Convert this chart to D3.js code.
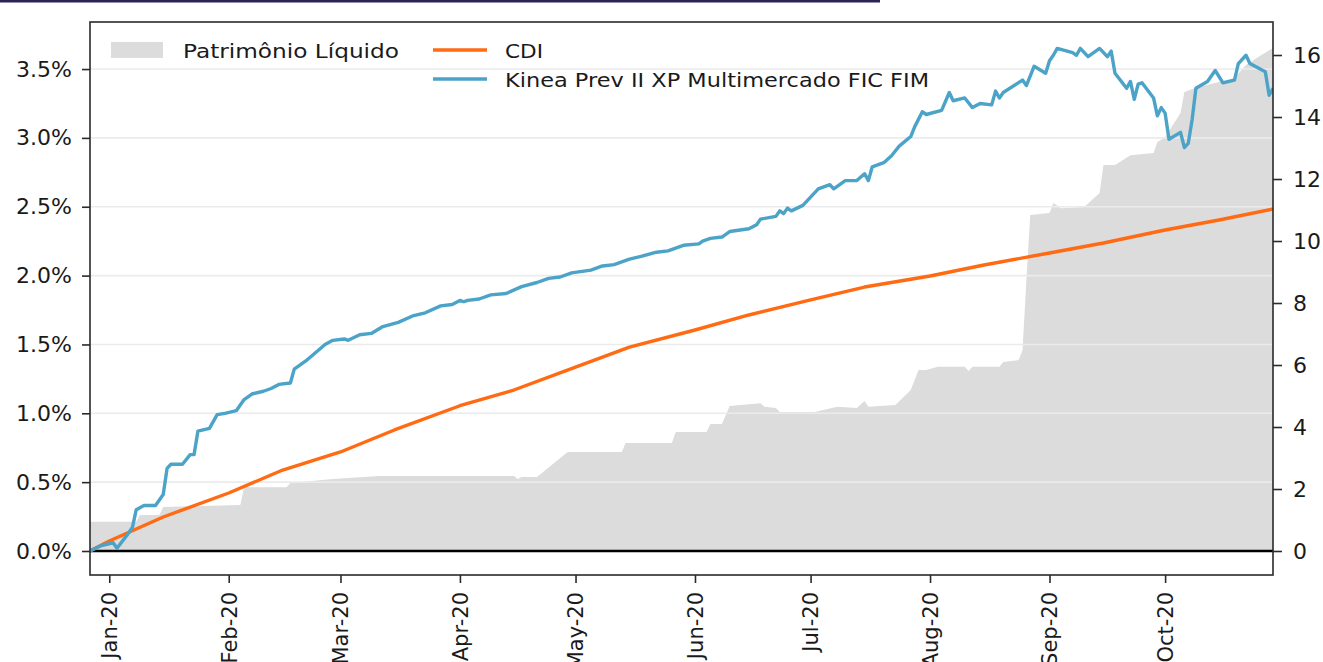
<!DOCTYPE html>
<html>
<head>
<meta charset="utf-8">
<script src="https://cdn.jsdelivr.net/npm/d3@7"></script>
<style>
  html, body { margin: 0; padding: 0; background: #fff; }
  svg { display: block; }
  text { font-family: "DejaVu Sans", sans-serif; }
</style>
</head>
<body>
<svg id="chart" width="1323" height="662"></svg>
<script>
// ---------------- DATA ----------------
const kineaDates = ["2019-12-27","2019-12-30","2020-01-02","2020-01-03","2020-01-06","2020-01-07","2020-01-08","2020-01-10","2020-01-13","2020-01-15","2020-01-16","2020-01-17","2020-01-20","2020-01-22","2020-01-23","2020-01-24","2020-01-27","2020-01-29","2020-01-31","2020-02-03","2020-02-05","2020-02-07","2020-02-10","2020-02-12","2020-02-14","2020-02-17","2020-02-18","2020-02-20","2020-02-21","2020-02-26","2020-02-28","2020-03-02","2020-03-03","2020-03-06","2020-03-09","2020-03-12","2020-03-16","2020-03-20","2020-03-23","2020-03-27","2020-03-30","2020-04-01","2020-04-02","2020-04-03","2020-04-06","2020-04-09","2020-04-13","2020-04-17","2020-04-21","2020-04-24","2020-04-27","2020-04-30","2020-05-05","2020-05-08","2020-05-11","2020-05-15","2020-05-18","2020-05-22","2020-05-25","2020-05-29","2020-06-02","2020-06-03","2020-06-05","2020-06-08","2020-06-10","2020-06-15","2020-06-17","2020-06-18","2020-06-22","2020-06-23","2020-06-24","2020-06-25","2020-06-26","2020-06-29","2020-07-01","2020-07-03","2020-07-06","2020-07-07","2020-07-10","2020-07-13","2020-07-15","2020-07-16","2020-07-17","2020-07-20","2020-07-22","2020-07-24","2020-07-27","2020-07-28","2020-07-30","2020-07-31","2020-08-04","2020-08-06","2020-08-07","2020-08-10","2020-08-12","2020-08-14","2020-08-17","2020-08-18","2020-08-19","2020-08-20","2020-08-25","2020-08-26","2020-08-28","2020-08-31","2020-09-01","2020-09-02","2020-09-03","2020-09-07","2020-09-08","2020-09-09","2020-09-11","2020-09-14","2020-09-16","2020-09-17","2020-09-18","2020-09-21","2020-09-22","2020-09-23","2020-09-24","2020-09-25","2020-09-28","2020-09-29","2020-09-30","2020-10-01","2020-10-02","2020-10-05","2020-10-06","2020-10-07","2020-10-08","2020-10-09","2020-10-12","2020-10-14","2020-10-16","2020-10-19","2020-10-20","2020-10-22","2020-10-23","2020-10-27","2020-10-28","2020-10-29"];
const kineaPct = [0.00,0.04,0.06,0.02,0.13,0.17,0.30,0.33,0.33,0.41,0.60,0.63,0.63,0.70,0.70,0.87,0.89,0.99,1.00,1.02,1.10,1.14,1.16,1.18,1.21,1.22,1.32,1.36,1.38,1.50,1.53,1.54,1.53,1.57,1.58,1.63,1.66,1.71,1.73,1.78,1.79,1.82,1.81,1.82,1.83,1.86,1.87,1.92,1.95,1.98,1.99,2.02,2.04,2.07,2.08,2.12,2.14,2.17,2.18,2.22,2.23,2.25,2.27,2.28,2.32,2.34,2.37,2.41,2.43,2.47,2.45,2.49,2.47,2.51,2.57,2.63,2.66,2.63,2.69,2.69,2.74,2.69,2.79,2.82,2.87,2.94,3.01,3.08,3.19,3.17,3.20,3.33,3.27,3.29,3.22,3.25,3.24,3.34,3.29,3.33,3.42,3.38,3.52,3.47,3.56,3.60,3.65,3.62,3.60,3.65,3.59,3.65,3.59,3.63,3.47,3.36,3.41,3.28,3.39,3.40,3.29,3.16,3.22,3.18,2.99,3.04,2.93,2.96,3.13,3.36,3.41,3.49,3.40,3.42,3.54,3.60,3.54,3.48,3.31,3.36];

const cdiDates = ["2019-12-27","2020-01-01","2020-01-15","2020-02-01","2020-02-15","2020-03-01","2020-03-15","2020-04-01","2020-04-15","2020-05-01","2020-05-15","2020-06-01","2020-06-15","2020-07-01","2020-07-15","2020-08-01","2020-08-15","2020-09-01","2020-09-15","2020-10-01","2020-10-15","2020-10-29"];
const cdiPct = [0.00,0.073,0.247,0.421,0.588,0.719,0.879,1.055,1.169,1.336,1.481,1.605,1.714,1.823,1.917,1.997,2.077,2.164,2.237,2.331,2.404,2.484];

const plDates = ["2019-12-27","2020-01-08","2020-01-09","2020-01-14","2020-01-15","2020-02-04","2020-02-05","2020-02-16","2020-02-17","2020-02-28","2020-03-11","2020-04-15","2020-04-16","2020-04-17","2020-04-21","2020-04-28","2020-04-29","2020-05-13","2020-05-14","2020-05-26","2020-05-27","2020-06-04","2020-06-05","2020-06-08","2020-06-10","2020-06-18","2020-06-19","2020-06-22","2020-06-23","2020-07-02","2020-07-08","2020-07-13","2020-07-15","2020-07-16","2020-07-23","2020-07-27","2020-07-29","2020-07-31","2020-08-03","2020-08-10","2020-08-11","2020-08-12","2020-08-19","2020-08-20","2020-08-24","2020-08-25","2020-08-26","2020-08-27","2020-09-01","2020-09-02","2020-09-04","2020-09-10","2020-09-14","2020-09-15","2020-09-18","2020-09-22","2020-09-28","2020-09-29","2020-10-01","2020-10-05","2020-10-06","2020-10-09","2020-10-15","2020-10-19","2020-10-22","2020-10-26","2020-10-29"];
const plValues = [0.94,0.94,1.16,1.16,1.42,1.48,2.06,2.06,2.19,2.32,2.42,2.42,2.32,2.39,2.39,3.10,3.19,3.19,3.48,3.48,3.84,3.84,4.10,4.10,4.68,4.77,4.65,4.61,4.48,4.48,4.65,4.61,4.84,4.65,4.71,5.19,5.84,5.84,5.94,5.94,5.81,5.94,5.94,6.10,6.16,6.48,8.74,10.84,10.90,11.23,11.06,11.10,11.55,12.45,12.45,12.77,12.84,13.19,13.35,14.13,14.81,14.94,15.13,15.26,15.68,16.00,16.23];

const leftTicks = [0, 0.5, 1.0, 1.5, 2.0, 2.5, 3.0, 3.5];
const rightTicks = [0, 2, 4, 6, 8, 10, 12, 14, 16];
const legendLabels = ["Patrimônio Líquido", "CDI", "Kinea Prev II XP Multimercado FIC FIM"];

// ---------------- CHART ----------------
const parse = d3.timeParse("%Y-%m-%d");
const svg = d3.select("#chart");
const L = 90, R = 1273, T = 22, B = 575;

const x = d3.scaleTime().domain([parse("2019-12-27"), parse("2020-10-29")]).range([L, R]);
const yL = d3.scaleLinear().domain([-0.1743, 3.8417]).range([B, T]);
const yR = d3.scaleLinear().domain([-0.7742, 17.065]).range([B, T]);

const colBlue = "#4ba3c8", colOrange = "#ff6a13", colArea = "#dcdcdc";

// title remnant at very top (clipped)
svg.append("rect").attr("x", 0).attr("y", 0).attr("width", 880).attr("height", 2.5).attr("fill", "#2b2556");

svg.append("defs").append("clipPath").attr("id", "clip")
  .append("rect").attr("x", L).attr("y", T).attr("width", R - L).attr("height", B - T);

const plot = svg.append("g").attr("clip-path", "url(#clip)");

// area
const plData = plDates.map((d, i) => ({ d: parse(d), v: plValues[i] }));
plot.append("path").datum(plData)
  .attr("fill", colArea)
  .attr("d", d3.area().x(p => x(p.d)).y0(yR(0)).y1(p => yR(p.v)));

// gridlines
plot.selectAll("line.grid").data(leftTicks.filter(t => t > 0)).enter().append("line")
  .attr("class", "grid")
  .attr("x1", L).attr("x2", R)
  .attr("y1", d => yL(d)).attr("y2", d => yL(d))
  .attr("stroke", "#ebebeb").attr("stroke-width", 1.6);

// zero line
plot.append("line").attr("x1", L).attr("x2", R).attr("y1", yL(0)).attr("y2", yL(0))
  .attr("stroke", "#000").attr("stroke-width", 2.6);

// lines
const lineGen = d3.line().x(p => x(p.d)).y(p => yL(p.v));
const cdiData = cdiDates.map((d, i) => ({ d: parse(d), v: cdiPct[i] }));
const kinData = kineaDates.map((d, i) => ({ d: parse(d), v: kineaPct[i] }));
plot.append("path").datum(cdiData).attr("fill", "none").attr("stroke", colOrange)
  .attr("stroke-width", 3.4).attr("stroke-linejoin", "round").attr("d", lineGen);
plot.append("path").datum(kinData).attr("fill", "none").attr("stroke", colBlue)
  .attr("stroke-width", 3.4).attr("stroke-linejoin", "round").attr("d", lineGen);

// frame
svg.append("rect").attr("x", L).attr("y", T).attr("width", R - L).attr("height", B - T)
  .attr("fill", "none").attr("stroke", "#2a2a2a").attr("stroke-width", 1.6);

// axes
const fontTick = "22px";
const gL = svg.append("g").attr("transform", `translate(${L},0)`)
  .call(d3.axisLeft(yL).tickValues(leftTicks).tickFormat(d => d.toFixed(1) + "%").tickSize(8).tickPadding(10));
const gR = svg.append("g").attr("transform", `translate(${R},0)`)
  .call(d3.axisRight(yR).tickValues(rightTicks).tickFormat(d3.format("d")).tickSize(9).tickPadding(11));
const gB = svg.append("g").attr("transform", `translate(0,${B})`)
  .call(d3.axisBottom(x).ticks(d3.timeMonth.every(1)).tickFormat(d3.timeFormat("%b-%y")).tickSize(8));

[gL, gR, gB].forEach(g => {
  g.select(".domain").remove();
  g.selectAll(".tick line").attr("stroke", "#2a2a2a").attr("stroke-width", 1.6);
  g.selectAll(".tick text").attr("fill", "#1a1a1a").style("font-size", fontTick).style("font-family", "DejaVu Sans");
});
gB.selectAll(".tick text")
  .attr("transform", "rotate(-90)")
  .attr("x", -17).attr("y", 0).attr("dy", "0.35em")
  .attr("text-anchor", "end")
  .style("font-size", "21px");

// legend
const lg = svg.append("g");
lg.append("rect").attr("x", 111).attr("y", 42).attr("width", 52).attr("height", 16).attr("fill", colArea);
lg.append("text").attr("x", 183).attr("y", 57.5).text(legendLabels[0])
  .style("font-size", "19px").attr("fill", "#1a1a1a").attr("textLength", 216).attr("lengthAdjust", "spacingAndGlyphs");
lg.append("line").attr("x1", 433).attr("x2", 487).attr("y1", 50).attr("y2", 50).attr("stroke", colOrange).attr("stroke-width", 3.4);
lg.append("text").attr("x", 505).attr("y", 57.5).text(legendLabels[1])
  .style("font-size", "19px").attr("fill", "#1a1a1a").attr("textLength", 38).attr("lengthAdjust", "spacingAndGlyphs");
lg.append("line").attr("x1", 433).attr("x2", 487).attr("y1", 79).attr("y2", 79).attr("stroke", colBlue).attr("stroke-width", 3.4);
lg.append("text").attr("x", 505).attr("y", 87).text(legendLabels[2])
  .style("font-size", "19px").attr("fill", "#1a1a1a").attr("textLength", 424).attr("lengthAdjust", "spacingAndGlyphs");
</script>
</body>
</html>
